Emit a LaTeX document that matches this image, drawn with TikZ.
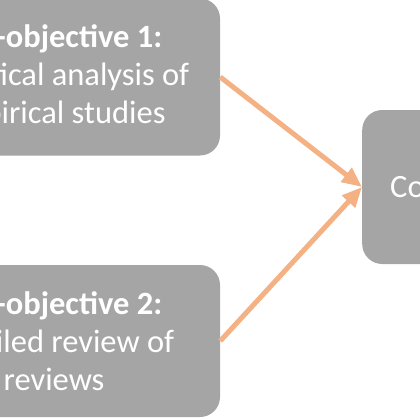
\documentclass[tikz,border=0pt]{standalone}
\usepackage{fontspec}
\setmainfont{Carlito}
\usetikzlibrary{arrows.meta}
\definecolor{boxgray}{HTML}{A5A5A5}
\definecolor{arroworange}{HTML}{F4B183}
\begin{document}
\begin{tikzpicture}[x=1pt,y=-1pt,
    objbox/.style={fill=boxgray,rounded corners=20pt,text=white,align=center,
                   font=\fontsize{32.5}{38}\selectfont,inner sep=0pt},
    link/.style={draw=arroworange,line width=5pt,-{Triangle[length=20pt,width=17pt]}}]
  \useasboundingbox (0,0) rectangle (420,420);
  \clip (0,0) rectangle (420,420);
  \node[objbox,minimum width=332pt,minimum height=157pt] (sub1) at (54,77)
    {\textbf{Sub-objective 1:}\\Statistical analysis of\\empirical studies};
  \node[objbox,minimum width=332pt,minimum height=152pt] (sub2) at (54,341)
    {\textbf{Sub-objective 2:}\\Detailed review of\\reviews};
  \node[objbox,anchor=west,text width=104pt,align=left,inner xsep=28pt,
        minimum height=154pt] (concl) at (362,187) {Co};
  \foreach \s in {sub1,sub2}
    {\draw[link] (\s.east) -- (concl.west);}
\end{tikzpicture}
\end{document}
